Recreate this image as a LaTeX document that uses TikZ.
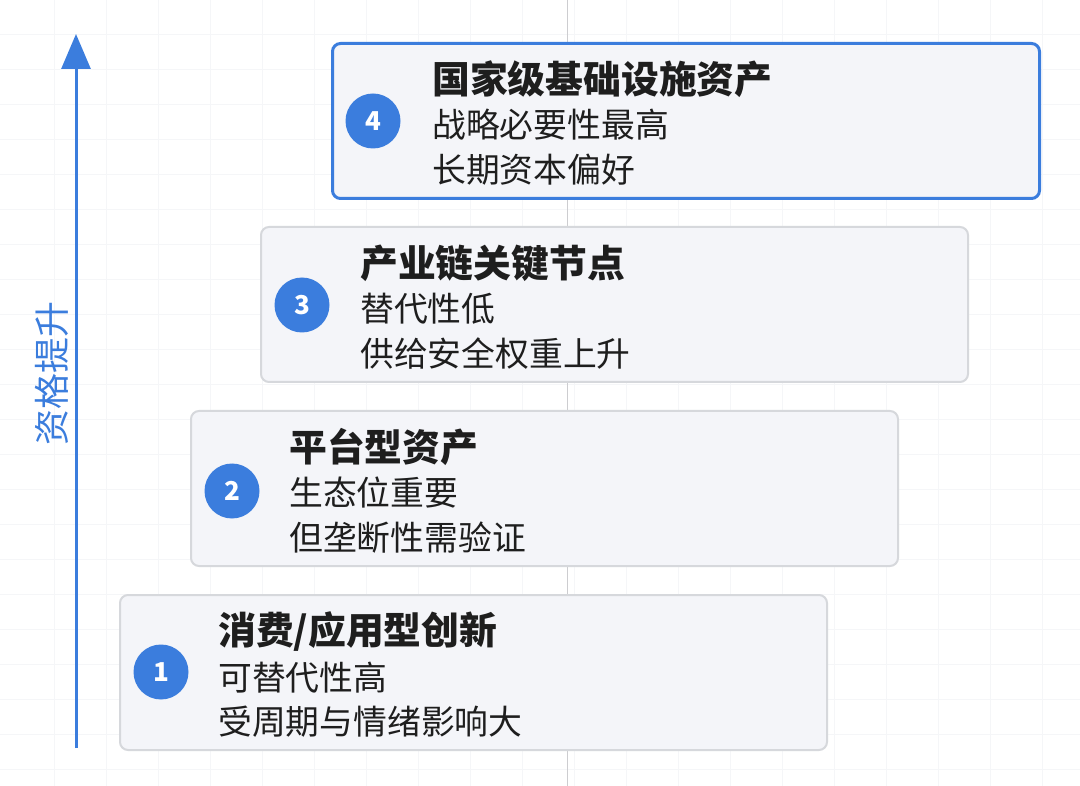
\documentclass[tikz,border=0pt]{standalone}
\usepackage{fontspec}
\usepackage{xcolor}
\usepackage{tikz}
\usetikzlibrary{arrows.meta}
\newfontfamily\cjk{Noto Sans CJK SC}
\definecolor{tierblue}{RGB}{59,125,221}
\definecolor{tierfill}{RGB}{244,245,249}
\definecolor{tieredge}{RGB}{214,216,220}
\definecolor{tiertext}{RGB}{30,30,30}
\definecolor{gridgray}{RGB}{245,246,248}
\definecolor{midgray}{RGB}{205,205,208}

\begin{document}
\begin{tikzpicture}[x=1pt,y=-1pt,
  tierbox/.style={draw=tieredge, line width=2pt, fill=tierfill, rounded corners=8pt,
    minimum width=707pt, minimum height=155pt, anchor=north west, inner sep=0pt},
  topbox/.style={tierbox, draw=tierblue, line width=3pt},
  badge/.style={circle, fill=tierblue, minimum size=55pt, inner sep=0pt, text=white,
    font=\cjk\bfseries\fontsize{26}{26}\selectfont},
  tiertitle/.style={anchor=west, inner sep=0pt, text=tiertext,
    font=\cjk\bfseries\fontsize{37.8}{40}\selectfont},
  tierline/.style={anchor=west, inner sep=0pt, text=tiertext,
    font=\cjk\fontsize{33.8}{36}\selectfont},
  axisarrow/.style={draw=tierblue, line width=3pt, -{Triangle[width=29pt,length=35pt]}}]
\useasboundingbox (0,0) rectangle (1080,786);
\fill[white] (0,0) rectangle (1080,786);
% faint background grid
\foreach \gy in {34,69,...,786} \draw[gridgray, line width=0.8pt] (0,\gy) -- (1080,\gy);
\foreach \gx in {54,106,...,1080} \draw[gridgray, line width=0.8pt] (\gx,0) -- (\gx,786);
\draw[midgray, line width=1pt] (567,0) -- (567,786);
% axis
\coordinate (axbot) at (76,748);
\coordinate (axtop) at (76,34);
\draw[axisarrow] (axbot) -- (axtop);
\node[rotate=90, text=tierblue, inner sep=0pt, font=\cjk\fontsize{36}{36}\selectfont] (axlabel) at (52,374) {资格提升};
% tier 1
\node[tierbox] (box1) at (119,594) {};
\node[badge] (c1) at (161,672) {1};
\node[tiertitle] (t1) at (218,632) {消费/应用型创新};
\node[tierline] (a1) at (218,678) {可替代性高};
\node[tierline] (b1) at (218,722) {受周期与情绪影响大};
% tier 2
\node[tierbox] (box2) at (190,410) {};
\node[badge] (c2) at (232,491) {2};
\node[tiertitle] (t2) at (289,447) {平台型资产};
\node[tierline] (a2) at (289,493) {生态位重要};
\node[tierline] (b2) at (289,538) {但垄断性需验证};
% tier 3
\node[tierbox] (box3) at (260,226) {};
\node[badge] (c3) at (302,305) {3};
\node[tiertitle] (t3) at (360,263) {产业链关键节点};
\node[tierline] (a3) at (360,309) {替代性低};
\node[tierline] (b3) at (360,354) {供给安全权重上升};
% tier 4
\node[topbox] (box4) at (331,42) {};
\node[badge] (c4) at (373,121) {4};
\node[tiertitle] (t4) at (432,79) {国家级基础设施资产};
\node[tierline] (a4) at (432,125) {战略必要性最高};
\node[tierline] (b4) at (432,170) {长期资本偏好};
\end{tikzpicture}
\end{document}
